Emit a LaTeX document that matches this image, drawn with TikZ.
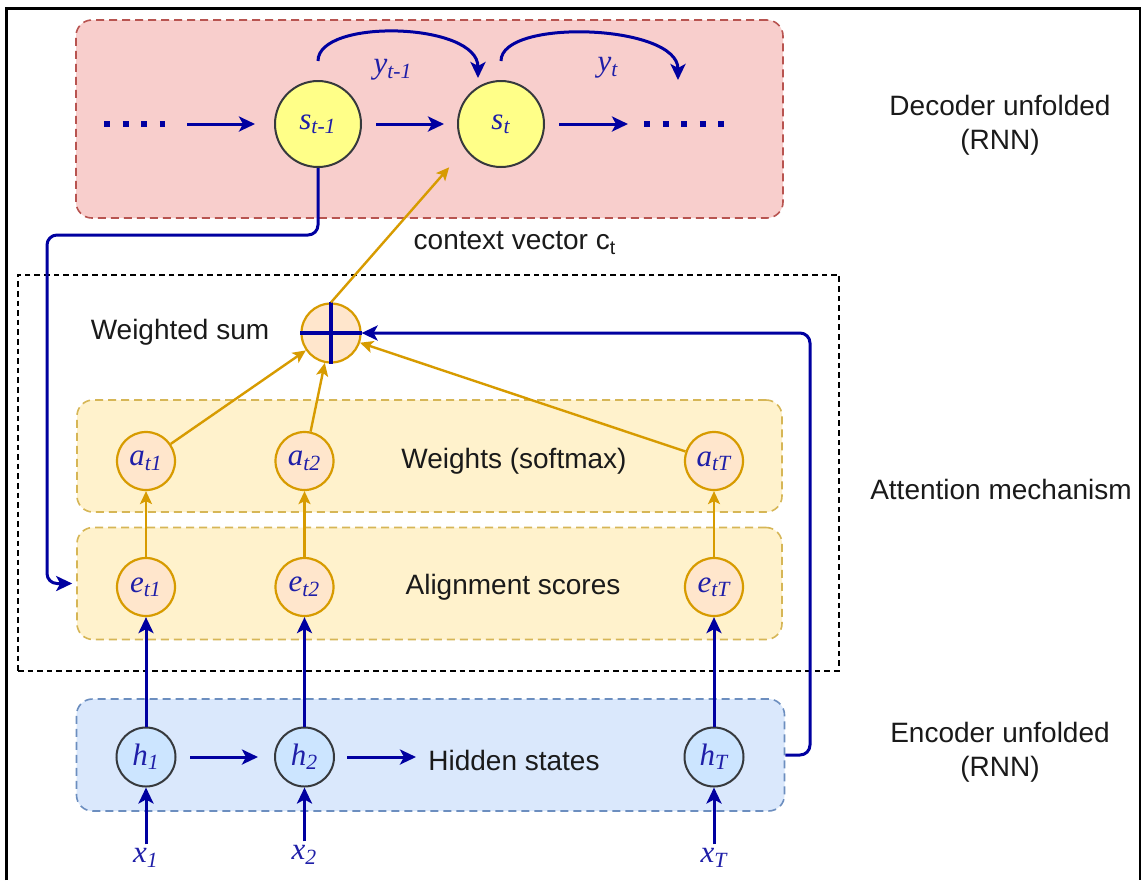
\documentclass[tikz,border=0pt]{standalone}
\usepackage{fontspec}
\setmainfont{Liberation Sans}
\newfontfamily\serfam{Liberation Serif}
\usetikzlibrary{arrows.meta,calc}
\definecolor{arrblue}{HTML}{0000A0}
\definecolor{lblblue}{HTML}{1F1FA8}
\definecolor{orng}{HTML}{D79B00}
\definecolor{pinkfill}{HTML}{F8CECC}
\definecolor{pinkline}{HTML}{B85450}
\definecolor{yelfill}{HTML}{FFF2CC}
\definecolor{yelline}{HTML}{D6B656}
\definecolor{bluefill}{HTML}{DAE8FC}
\definecolor{blueline}{HTML}{6C8EBF}
\definecolor{circyel}{HTML}{FFFF88}
\definecolor{circgray}{HTML}{36393D}
\definecolor{circpeach}{HTML}{FFE6CC}
\definecolor{circblue}{HTML}{CCE5FF}
\definecolor{txt}{HTML}{1A1A1A}
\newcommand{\vlab}[2]{{\serfam\itshape #1\textsubscript{#2}}}
\begin{document}
\begin{tikzpicture}[x=0.5pt,y=-0.5pt,
  font=\fontsize{14pt}{17pt}\selectfont,
  lblfont/.style={font=\fontsize{15.5pt}{17pt}\selectfont},
  groupbox/.style={rounded corners=8pt, line width=0.8pt, dash pattern=on 4pt off 2.5pt},
  decbox/.style={groupbox, draw=pinkline, fill=pinkfill},
  attbox/.style={groupbox, draw=yelline, fill=yelfill},
  encbox/.style={groupbox, draw=blueline, fill=bluefill},
  statenode/.style={circle, draw=circgray, line width=1pt, fill=circyel, minimum size=43pt, inner sep=0pt, text=lblblue, lblfont},
  hidnode/.style={circle, draw=circgray, line width=1pt, fill=circblue, minimum size=29.5pt, inner sep=0pt, text=lblblue, lblfont},
  attnode/.style={circle, draw=orng, line width=1.1pt, fill=circpeach, minimum size=29pt, inner sep=0pt, text=lblblue, lblfont},
  inlabel/.style={text=lblblue, inner sep=0pt, lblfont},
  plain/.style={text=txt, align=center},
  barrow/.style={draw=arrblue, line width=1.5pt, -{Stealth[length=8pt,width=7.5pt,inset=2pt]}},
  oarrow/.style={draw=orng, line width=1.2pt, -{Stealth[length=6.5pt,width=6pt,inset=1.5pt]}}
]
\fill[white] (0,0) rectangle (1141,880);
\useasboundingbox (0,0) rectangle (1141,880);
\draw[black, line width=1.5pt] (6,880) -- (6,8) -- (1140,8) -- (1140,880);

% group boxes
\node[decbox, minimum width=353.5pt, minimum height=99pt] (dec) at (429.5,119) {};
\node[attbox, minimum width=352.5pt, minimum height=56pt] (wts) at (429.5,456) {};
\node[attbox, minimum width=352.5pt, minimum height=56pt] (aln) at (429.5,583.5) {};
\node[encbox, minimum width=354pt, minimum height=56pt] (enc) at (430.5,755) {};
\node[draw=black, line width=1pt, dash pattern=on 2.8pt off 2pt, minimum width=410.5pt, minimum height=198pt, inner sep=0pt] (att) at (428.5,472.5) {};

% decoder
\node[statenode] (s1) at (318,124) {\vlab{s}{t-1}};
\node[statenode] (st) at (501,124) {\vlab{s}{t}};
\draw[arrblue, line width=3pt, dash pattern=on 3pt off 6.3pt] (104,124) -- (165,124);
\draw[arrblue, line width=3pt, dash pattern=on 3pt off 6.3pt] (644,124) -- (725,124);
\coordinate (dl) at (187,124);
\coordinate (dr) at (628,124);
\coordinate (yt1) at (478,78);
\coordinate (yt2) at (678,80);
\draw[barrow, shorten >=9.5pt] (dl) -- (s1);
\draw[barrow, shorten <=7pt, shorten >=6.5pt] (s1) -- (st);
\draw[barrow, shorten <=7pt] (st) -- (dr);
\draw[barrow, shorten <=9.5pt] (s1.north) .. controls +(0,-62) and +(0,-56) .. (yt1);
\draw[barrow, shorten <=9.5pt] (st.north) .. controls +(0,-62) and +(0,-56) .. (yt2);
\node[inlabel] (ylab1) at (393,70) {\vlab{y}{t-1}};
\node[inlabel] (ylab2) at (608,68) {\vlab{y}{t}};

% weighted sum
\node[attnode, minimum size=29.5pt] (ws) at (331,333) {};
\draw[arrblue, line width=2pt] (ws.north) -- (ws.south) (ws.west) -- (ws.east);
\node[plain] (wslab) at (180,332) {Weighted sum};

% attention nodes
\node[attnode] (a1) at (146,461) {\vlab{a}{t1}};
\node[attnode] (a2) at (304.5,461) {\vlab{a}{t2}};
\node[attnode] (aT) at (714,461) {\vlab{a}{tT}};
\node[attnode] (e1) at (146,587) {\vlab{e}{t1}};
\node[attnode] (e2) at (304.5,587) {\vlab{e}{t2}};
\node[attnode] (eT) at (714,587) {\vlab{e}{tT}};
\node[plain] (wtlab) at (514,461) {Weights (softmax)};
\node[plain] (allab) at (513,587) {Alignment scores};

% encoder
\node[hidnode] (h1) at (146,757) {\vlab{h}{1}};
\node[hidnode] (h2) at (304.5,757) {\vlab{h}{2}};
\node[hidnode] (hT) at (714,757) {\vlab{h}{T}};
\node[plain] (hslab) at (514,760) {Hidden states};
\coordinate (hr) at (416,757);
\draw[barrow, shorten <=6.75pt, shorten >=8pt] (h1) -- (h2);
\draw[barrow, shorten <=6pt] (h2) -- (hr);

% inputs
\node[inlabel] (x1) at (146,858) {\vlab{x}{1}};
\node[inlabel] (x2) at (304.5,855) {\vlab{x}{2}};
\node[inlabel] (xT) at (714,858) {\vlab{x}{T}};
\draw[barrow, shorten <=2pt] (x1.north) -- (h1);
\draw[barrow, shorten <=2pt] (x2.north) -- (h2);
\draw[barrow, shorten <=2pt] (xT.north) -- (hT);

% encoder to alignment
\draw[barrow] (h1) -- (e1);
\draw[barrow] (h2) -- (e2);
\draw[barrow] (hT) -- (eT);

% alignment to weights
\draw[oarrow] (e1) -- (a1);
\draw[oarrow] (e2) -- (a2);
\draw[oarrow] (eT) -- (aT);

% weights to weighted sum
\draw[oarrow] (a1) -- (ws);
\draw[oarrow] (a2) -- (ws);
\draw[oarrow] (aT) -- (ws);

% context vector
\draw[oarrow, shorten >=12pt] (ws.north) -- (st.215);
\node[plain] (ctx) at (515,243) {context vector c\textsubscript{t}};

% feedback lines
\coordinate (lc) at (47,235);
\coordinate (rc) at (810,333);
\draw[barrow, rounded corners=5pt, shorten >=2pt] (s1.south) |- (lc) |- (aln.west);
\draw[barrow, rounded corners=5pt] (enc.east) -| (rc) -- (ws.east);

% side labels
\node[plain] (declab) at (1000,125) {Decoder unfolded\\(RNN)};
\node[plain] (attlab) at (1001,489) {Attention mechanism};
\node[plain] (enclab) at (1000,752) {Encoder unfolded\\(RNN)};
\end{tikzpicture}
\end{document}
